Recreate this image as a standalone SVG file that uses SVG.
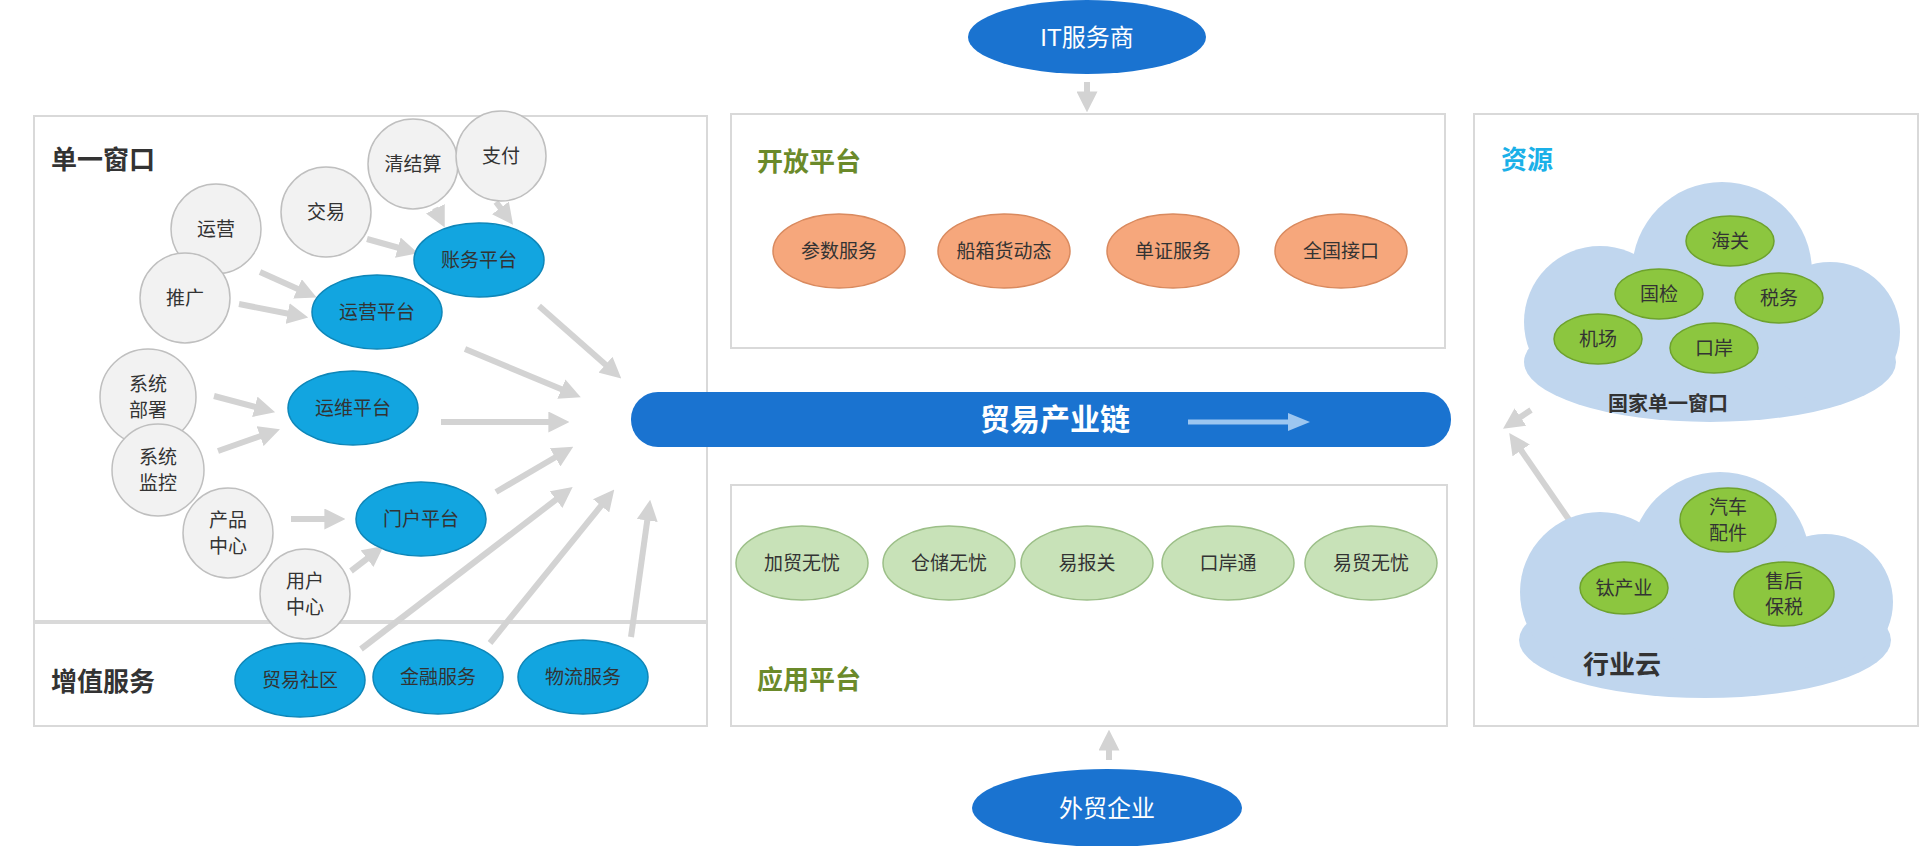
<svg xmlns="http://www.w3.org/2000/svg" width="1920" height="846" viewBox="0 0 1920 846">
<defs>
<style>
text{font-family:"Liberation Sans","Noto Sans CJK SC",sans-serif;text-anchor:middle;dominant-baseline:central;fill:#333}
.panel{fill:#fff;stroke:#d9d9d9;stroke-width:2}
.gc{fill:#f2f2f2;stroke:#bfbfbf;stroke-width:1.5}
.be{fill:#12a5e0;stroke:#0e86b8;stroke-width:1.5}
.oe{fill:#f6a77c;stroke:#d98a5f;stroke-width:1.5}
.ge{fill:#c8e2b8;stroke:#9cbf88;stroke-width:1.5}
.le{fill:#8cc63f;stroke:#6ea22d;stroke-width:1.5}
.cl{fill:#c0d6ee}
.t{font-size:19px}
.h{font-size:26px;font-weight:bold}
.h2{font-size:26px;font-weight:bold;fill:#6b8a2a;text-anchor:start}
.a{stroke:#d3d3d3;stroke-width:6;fill:none;marker-end:url(#ah)}
</style>
<marker id="ah" viewBox="0 0 10 10" refX="6" refY="5" markerWidth="3.5" markerHeight="3.5" orient="auto"><path d="M0,0L10,5L0,10z" fill="#d3d3d3"/></marker>
</defs>
<rect width="1920" height="846" fill="#fff"/>
<g id="panels">
<rect class="panel" x="34" y="116" width="673" height="610"/>
<line x1="34" y1="622" x2="707" y2="622" stroke="#d9d9d9" stroke-width="4"/>
<rect class="panel" x="731" y="114" width="714" height="234"/>
<rect class="panel" x="731" y="485" width="716" height="241"/>
<rect class="panel" x="1474" y="114" width="444" height="612"/>
</g>
<text class="h" x="51" y="160" style="text-anchor:start">单一窗口</text>
<text class="h" x="51" y="682" style="text-anchor:start">增值服务</text>
<text class="h2" x="757" y="162">开放平台</text>
<text class="h2" x="757" y="680">应用平台</text>
<text class="h" x="1501" y="160" style="text-anchor:start;fill:#1ab0e8">资源</text>
<g id="connectors">
<path class="a" d="M260,272L309,294"/><path class="a" d="M239,304L300,316"/>
<path class="a" d="M367,239L410,251"/><path class="a" d="M435,208L441,220"/><path class="a" d="M496,202L508,218"/>
<path class="a" d="M214,396L267,410"/><path class="a" d="M218,451L272,432"/>
<path class="a" d="M291,519L337,519"/><path class="a" d="M351,571L377,551"/>
<path class="a" d="M539,306L615,373"/><path class="a" d="M465,349L573,394"/><path class="a" d="M441,422L561,422"/>
<path class="a" d="M496,492L566,451"/><path class="a" d="M361,649L566,492"/><path class="a" d="M490,643L609,496"/><path class="a" d="M631,637L649,508"/>
<path class="a" d="M1574,527L1514,440"/><path class="a" d="M1531,410L1510,424"/>
<path class="a" d="M1087,82L1087,104"/><path class="a" d="M1109,760L1109,738"/>
</g>
<g id="n-it"><ellipse cx="1087" cy="37" rx="119" ry="37" fill="#1a73d0"/><text x="1087" y="37" style="fill:#fff;font-size:24px">IT服务商</text></g>
<g id="n-waimao"><ellipse cx="1107" cy="808" rx="135" ry="39" fill="#1a73d0"/><text x="1107" y="808" style="fill:#fff;font-size:24px">外贸企业</text></g>
<g id="n-chain"><rect x="631" y="392" width="820" height="55" rx="27" fill="#1a73d0"/><text x="1055" y="419" style="fill:#fff;font-size:30px;font-weight:bold">贸易产业链</text>
<path d="M1188,422L1290,422" stroke="#9cc6f0" stroke-width="5"/><path d="M1288,413L1310,422L1288,431z" fill="#9cc6f0"/></g>
<g id="n1"><circle class="gc" cx="216" cy="229" r="45"/><text class="t" x="216" y="229">运营</text></g>
<g id="n2"><circle class="gc" cx="185" cy="298" r="45"/><text class="t" x="185" y="298">推广</text></g>
<g id="n3"><circle class="gc" cx="326" cy="212" r="45"/><text class="t" x="326" y="212">交易</text></g>
<g id="n4"><circle class="gc" cx="413" cy="164" r="45"/><text class="t" x="413" y="164">清结算</text></g>
<g id="n5"><circle class="gc" cx="501" cy="156" r="45"/><text class="t" x="501" y="156">支付</text></g>
<g id="n6"><circle class="gc" cx="148" cy="397" r="48"/><text class="t" x="148" y="384">系统</text><text class="t" x="148" y="410">部署</text></g>
<g id="n7"><circle class="gc" cx="158" cy="470" r="46"/><text class="t" x="158" y="457">系统</text><text class="t" x="158" y="483">监控</text></g>
<g id="n8"><circle class="gc" cx="228" cy="533" r="45"/><text class="t" x="228" y="520">产品</text><text class="t" x="228" y="546">中心</text></g>
<g id="n9"><circle class="gc" cx="305" cy="594" r="45"/><text class="t" x="305" y="581">用户</text><text class="t" x="305" y="607">中心</text></g>
<g id="b1"><ellipse class="be" cx="479" cy="260" rx="65" ry="37"/><text class="t" x="479" y="260">账务平台</text></g>
<g id="b2"><ellipse class="be" cx="377" cy="312" rx="65" ry="37"/><text class="t" x="377" y="312">运营平台</text></g>
<g id="b3"><ellipse class="be" cx="353" cy="408" rx="65" ry="37"/><text class="t" x="353" y="408">运维平台</text></g>
<g id="b4"><ellipse class="be" cx="421" cy="519" rx="65" ry="37"/><text class="t" x="421" y="519">门户平台</text></g>
<g id="b5"><ellipse class="be" cx="300" cy="680" rx="65" ry="37"/><text class="t" x="300" y="680">贸易社区</text></g>
<g id="b6"><ellipse class="be" cx="438" cy="677" rx="65" ry="37"/><text class="t" x="438" y="677">金融服务</text></g>
<g id="b7"><ellipse class="be" cx="583" cy="677" rx="65" ry="37"/><text class="t" x="583" y="677">物流服务</text></g>
<g id="o1"><ellipse class="oe" cx="839" cy="251" rx="66" ry="37"/><text class="t" x="839" y="251">参数服务</text></g>
<g id="o2"><ellipse class="oe" cx="1004" cy="251" rx="66" ry="37"/><text class="t" x="1004" y="251">船箱货动态</text></g>
<g id="o3"><ellipse class="oe" cx="1173" cy="251" rx="66" ry="37"/><text class="t" x="1173" y="251">单证服务</text></g>
<g id="o4"><ellipse class="oe" cx="1341" cy="251" rx="66" ry="37"/><text class="t" x="1341" y="251">全国接口</text></g>
<g id="g1"><ellipse class="ge" cx="802" cy="563" rx="66" ry="37"/><text class="t" x="802" y="563">加贸无忧</text></g>
<g id="g2"><ellipse class="ge" cx="949" cy="563" rx="66" ry="37"/><text class="t" x="949" y="563">仓储无忧</text></g>
<g id="g3"><ellipse class="ge" cx="1087" cy="563" rx="66" ry="37"/><text class="t" x="1087" y="563">易报关</text></g>
<g id="g4"><ellipse class="ge" cx="1228" cy="563" rx="66" ry="37"/><text class="t" x="1228" y="563">口岸通</text></g>
<g id="g5"><ellipse class="ge" cx="1371" cy="563" rx="66" ry="37"/><text class="t" x="1371" y="563">易贸无忧</text></g>
<g id="cloud1"><g class="cl"><ellipse cx="1710" cy="362" rx="186" ry="60"/><circle cx="1600" cy="322" r="76"/><circle cx="1722" cy="272" r="90"/><circle cx="1830" cy="332" r="70"/></g>
<text x="1668" y="404" style="font-size:20px;font-weight:bold">国家单一窗口</text></g>
<g id="r1"><ellipse class="le" cx="1730" cy="241" rx="44" ry="25"/><text class="t" x="1730" y="241">海关</text></g>
<g id="r2"><ellipse class="le" cx="1659" cy="294" rx="44" ry="25"/><text class="t" x="1659" y="294">国检</text></g>
<g id="r3"><ellipse class="le" cx="1779" cy="298" rx="44" ry="25"/><text class="t" x="1779" y="298">税务</text></g>
<g id="r4"><ellipse class="le" cx="1598" cy="339" rx="44" ry="25"/><text class="t" x="1598" y="339">机场</text></g>
<g id="r5"><ellipse class="le" cx="1714" cy="348" rx="44" ry="25"/><text class="t" x="1714" y="348">口岸</text></g>
<g id="cloud2"><g class="cl"><ellipse cx="1705" cy="640" rx="186" ry="58"/><circle cx="1600" cy="592" r="80"/><circle cx="1720" cy="562" r="90"/><circle cx="1825" cy="602" r="68"/></g>
<text x="1622" y="665" style="font-size:26px;font-weight:bold">行业云</text></g>
<g id="r6"><ellipse class="le" cx="1728" cy="520" rx="48" ry="32"/><text class="t" x="1728" y="507">汽车</text><text class="t" x="1728" y="533">配件</text></g>
<g id="r7"><ellipse class="le" cx="1624" cy="588" rx="44" ry="26"/><text class="t" x="1624" y="588">钛产业</text></g>
<g id="r8"><ellipse class="le" cx="1784" cy="594" rx="50" ry="32"/><text class="t" x="1784" y="581">售后</text><text class="t" x="1784" y="607">保税</text></g>
</svg>
